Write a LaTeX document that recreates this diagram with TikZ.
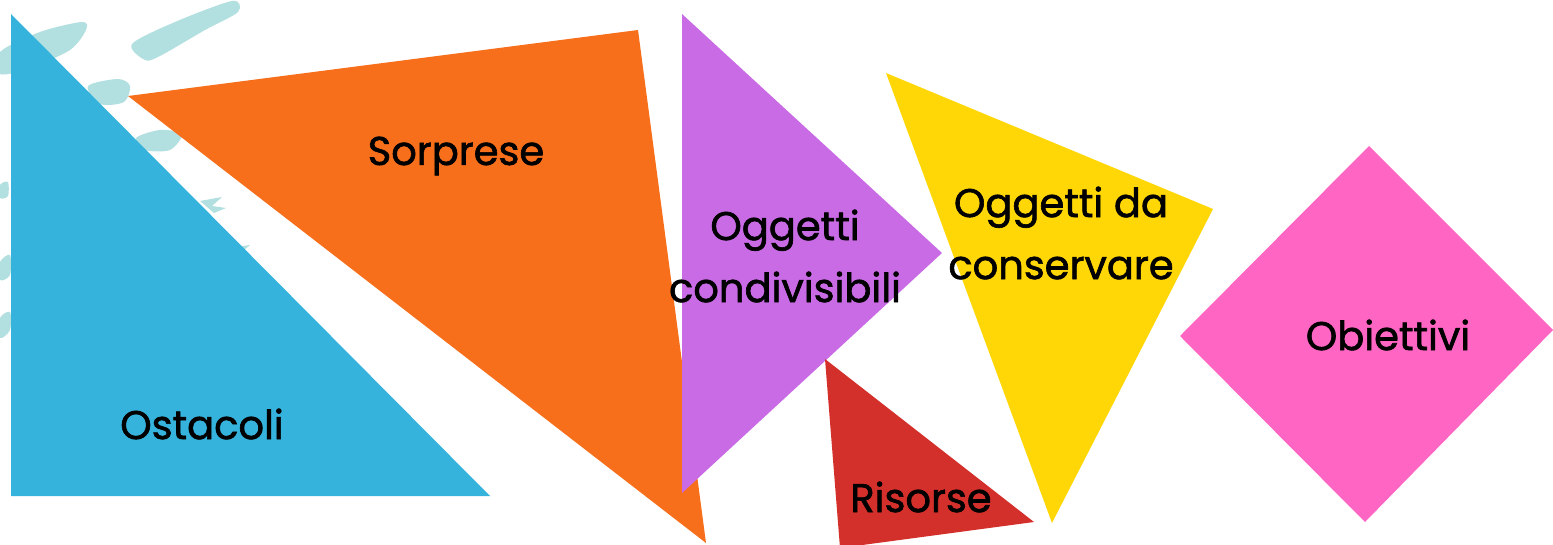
\documentclass[tikz,border=0pt]{standalone}
\usepackage{fontspec}
\setmainfont{Poppins}[FakeBold=1.6]
\usepackage{xcolor}
\usetikzlibrary{positioning}

\definecolor{skyblue}{HTML}{35B3DC}
\definecolor{carrot}{HTML}{F76F1B}
\definecolor{lilac}{HTML}{C96BE5}
\definecolor{sun}{HTML}{FFD606}
\definecolor{brick}{HTML}{D4302B}
\definecolor{candy}{HTML}{FF66C4}
\definecolor{brush}{HTML}{B2DFDF}

\begin{document}
\begin{tikzpicture}[x=0.5pt,y=-0.5pt,
  label/.style={font=\fontsize{20}{31}\selectfont, text=black, align=center,
    inner sep=0pt},
  stroke/.style={fill=brush, draw=none}]

\useasboundingbox (0,0) rectangle (1553,545);

% brush strokes in the background
\fill[stroke] plot[smooth cycle] coordinates {(132,44) (175,22) (232,1) (238,12) (205,30) (160,56) (145,60)};
\fill[stroke] plot[smooth cycle] coordinates {(0,52) (40,32) (82,22) (86,30) (70,50) (30,68) (0,74)};
\fill[stroke] plot[smooth cycle] coordinates {(88,86) (118,79) (130,86) (124,102) (100,104)};
\fill[stroke] plot[smooth cycle] coordinates {(136,138) (160,130) (182,134) (170,150) (145,150)};
\fill[stroke] plot[smooth cycle] coordinates {(0,185) (8,182) (8,196) (0,198)};
\fill[stroke] plot[smooth cycle] coordinates {(0,262) (10,255) (10,275) (0,280)};
\fill[stroke] plot[smooth cycle] coordinates {(0,318) (10,312) (10,330) (0,338)};
\fill[stroke] (200,201) -- (222,197) -- (212,206) -- (226,208) -- (214,213) -- cycle;
\fill[stroke] (236,247) -- (250,245) -- (242,252) -- cycle;

% shapes
\fill[carrot] (128,96) -- (638,30) -- (706,543) -- cycle;
\fill[skyblue] (11,14) -- (11,496) -- (490,496) -- cycle;
\fill[lilac] (682,14) -- (942,253) -- (682,493) -- cycle;
\fill[sun] (886,73) -- (1213,209) -- (1052,523) -- cycle;
\fill[brick] (825,359) -- (1034,522) -- (840,548) -- cycle;
\fill[candy] (1369,146) -- (1553,330) -- (1365,522) -- (1180,336) -- cycle;

% labels
\node[label] (ostacoli) at (202,424) {Ostacoli};
\node[label] (sorprese) at (456,156) {Sorprese};
\node[label] (condivisibili) at (785,256) {Oggetti\\condivisibili};
\node[label] (conservare) at (1061,233) {Oggetti da\\conservare};
\node[label] (risorse) at (921,497) {Risorse};
\node[label] (obiettivi) at (1388,335) {Obiettivi};

\end{tikzpicture}
\end{document}
